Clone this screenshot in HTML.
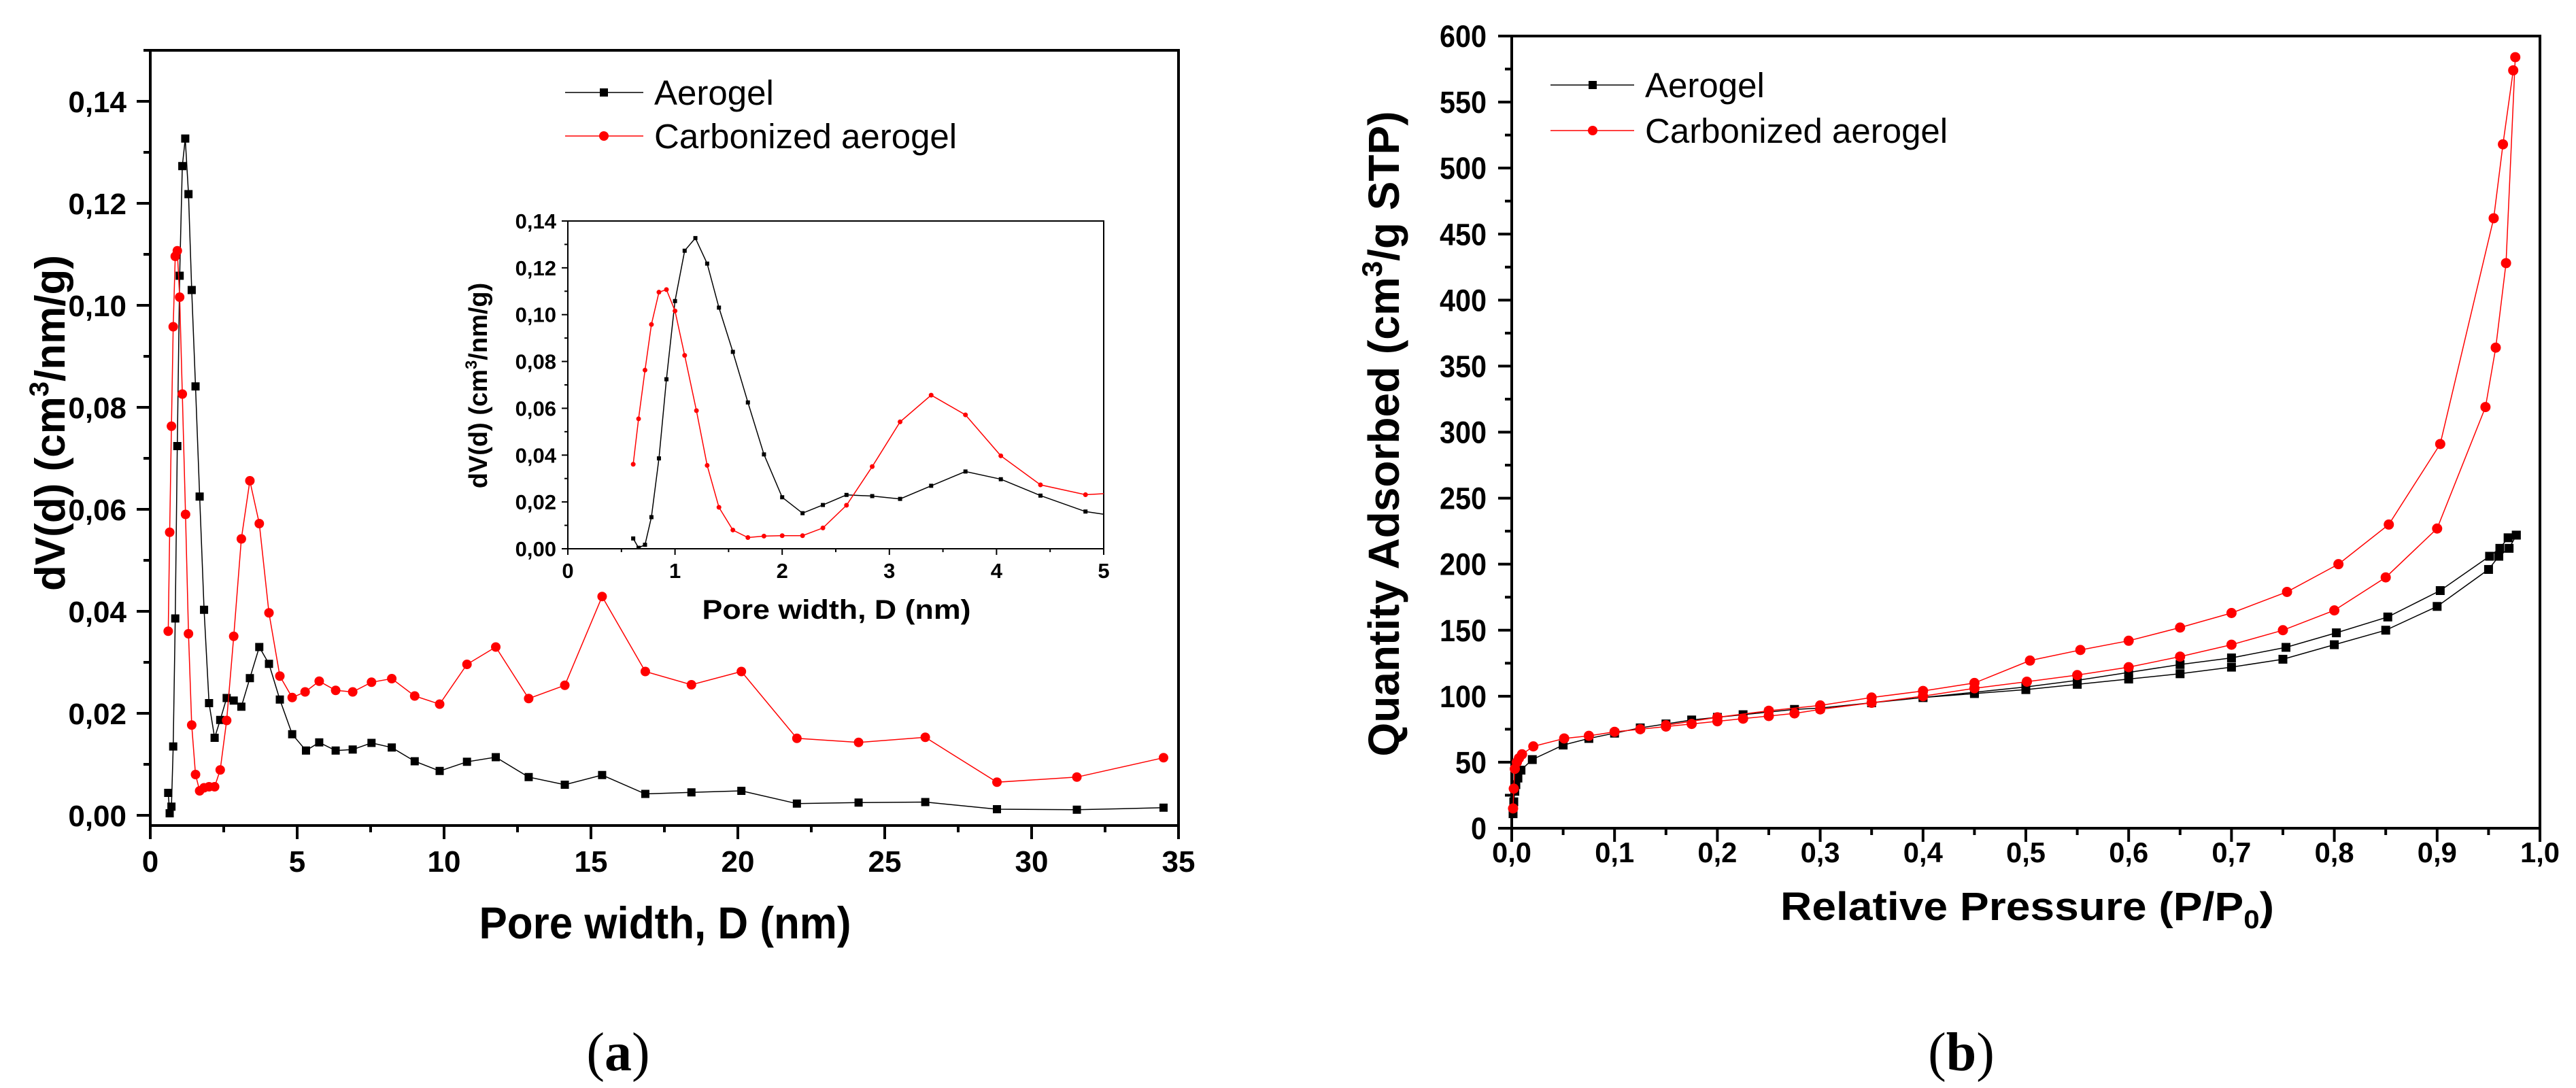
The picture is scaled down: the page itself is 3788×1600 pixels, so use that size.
<!DOCTYPE html>
<html><head><meta charset="utf-8"><style>
html,body{margin:0;padding:0;background:#fff}
svg{display:block}
text{font-family:"Liberation Sans",Arial,sans-serif}
</style></head><body>
<svg id="fig" xmlns="http://www.w3.org/2000/svg" width="3788" height="1600" viewBox="0 0 3788 1600">
<rect width="3788" height="1600" fill="#fff"/>
<defs>
<clipPath id="clipInset"><rect x="835" y="325" width="788" height="482"/></clipPath>
</defs>
<g id="panelA"></g>
<g id="panelB"></g>
<text x="909" y="1574" font-size="80" text-anchor="middle" style="font-family:'Liberation Serif',serif">(<tspan font-weight="bold">a</tspan>)</text>
<text x="2884" y="1574" font-size="80" text-anchor="middle" style="font-family:'Liberation Serif',serif">(<tspan font-weight="bold">b</tspan>)</text>
</svg>
<script>
// ---- Panel (a) data: pore width (nm) ----
const aeroX = [0.61,0.66,0.72,0.78,0.85,0.92,1.00,1.09,1.19,1.30,1.41,1.54,1.68,1.83,2.00,2.19,2.38,2.60,2.84,3.10,3.39,3.71,4.04,4.41,4.83,5.30,5.75,6.31,6.89,7.53,8.22,9.00,9.85,10.78,11.76,12.88,14.11,15.38,16.85,18.42,20.12,22.01,24.11,26.38,28.82,31.54,34.49];
const aeroY = [0.0044,0.0004,0.0017,0.0135,0.0386,0.0724,0.1058,0.1273,0.1327,0.1218,0.1030,0.0841,0.0625,0.0403,0.0220,0.0152,0.0187,0.0230,0.0225,0.0213,0.0269,0.0330,0.0297,0.0227,0.0159,0.0127,0.0143,0.0127,0.0129,0.0142,0.0133,0.0106,0.0087,0.0105,0.0114,0.0075,0.0060,0.0079,0.0042,0.0045,0.0048,0.0023,0.0025,0.0026,0.0012,0.0011,0.0015];
const carbX = [0.61,0.66,0.72,0.78,0.85,0.92,1.00,1.09,1.20,1.30,1.41,1.54,1.68,1.83,2.00,2.19,2.38,2.60,2.84,3.10,3.39,3.71,4.04,4.41,4.83,5.27,5.75,6.31,6.89,7.53,8.22,9.00,9.85,10.78,11.76,12.88,14.11,15.38,16.85,18.42,20.12,22.01,24.11,26.38,28.82,31.54,34.49];
const carbY = [0.0361,0.0555,0.0763,0.0958,0.1096,0.1107,0.1016,0.0826,0.0590,0.0356,0.0177,0.0080,0.0048,0.0054,0.0056,0.0056,0.0089,0.0186,0.0351,0.0542,0.0656,0.0572,0.0397,0.0273,0.0231,0.0242,0.0263,0.0245,0.0242,0.0261,0.0268,0.0234,0.0218,0.0296,0.0330,0.0229,0.0255,0.0429,0.0282,0.0256,0.0282,0.0151,0.0143,0.0153,0.0065,0.0075,0.0113];
const aYTicks = ["0,00","0,02","0,04","0,06","0,08","0,10","0,12","0,14"];
const aXTicks = ["0","5","10","15","20","25","30","35"];
const insetXTicks = ["0","1","2","3","4","5"];
// ---- Panel (b) data: relative pressure ----
const aeroAdsX = [0.0013,0.002,0.003,0.004,0.006,0.009,0.02,0.05,0.075,0.1,0.125,0.15,0.175,0.2,0.225,0.25,0.275,0.3,0.35,0.4,0.45,0.5,0.55,0.6,0.65,0.7,0.75,0.8,0.85,0.9,0.95,0.96,0.97,0.977];
const aeroAdsY = [11,20,28,33,38,44,52,63,68,72,76,79,82,84,86,88,90,91,95,99,102,105,109,113,117,122,128,139,150,168,196,206,212,222];
const aeroDesX = [0.977,0.969,0.961,0.951,0.903,0.852,0.802,0.753,0.7,0.65,0.6,0.55,0.5,0.45,0.4];
const aeroDesY = [222,220,212,206,180,160,148,137,129,124,118,112,107,103,99];
const carbAdsX = [0.0013,0.002,0.003,0.005,0.007,0.01,0.021,0.051,0.075,0.1,0.125,0.15,0.175,0.2,0.225,0.25,0.275,0.3,0.35,0.4,0.45,0.501,0.55,0.6,0.65,0.7,0.75,0.8,0.85,0.9,0.947,0.957,0.967,0.976];
const carbAdsY = [15,30,45,50,53,56,62,68,70,73,75,77,79,81,83,85,87,90,95,100,106,111,116,122,130,139,150,165,190,227,319,364,428,584];
const carbDesX = [0.974,0.964,0.955,0.903,0.853,0.804,0.754,0.7,0.65,0.6,0.553,0.504,0.45,0.4,0.35,0.3,0.25,0.2,0.15];
const carbDesY = [574,518,462,291,230,200,179,163,152,142,135,127,110,104,99,93,89,84,78];
const bYTicks = ["0","50","100","150","200","250","300","350","400","450","500","550","600"];
const bXTicks = ["0,0","0,1","0,2","0,3","0,4","0,5","0,6","0,7","0,8","0,9","1,0"];

const NS="http://www.w3.org/2000/svg";
function mk(tag, attrs, parent){const e=document.createElementNS(NS,tag);for(const k in attrs)e.setAttribute(k,attrs[k]);parent.appendChild(e);return e;}
function lin(d0,d1,r0,r1){return v=>r0+(v-d0)/(d1-d0)*(r1-r0);}
function polyline(xs,ys,sx,sy,color,parent,w){
  const pts=xs.map((x,i)=>sx(x).toFixed(1)+","+sy(ys[i]).toFixed(1)).join(" ");
  return mk("polyline",{points:pts,fill:"none",stroke:color,"stroke-width":w},parent);
}
function markers(xs,ys,sx,sy,kind,size,color,parent){
  const g=mk("g",{},parent);
  xs.forEach((x,i)=>{
    let m;
    if(kind==="sq") m=mk("rect",{x:sx(x)-size/2,y:sy(ys[i])-size/2,width:size,height:size,fill:color},g);
    else m=mk("circle",{cx:sx(x),cy:sy(ys[i]),r:size/2,fill:color},g);
    
    
  });
  return g;
}
function txt(x,y,s,size,anchor,parent,extra){
  const t=mk("text",Object.assign({x:x,y:y,"font-size":size,"text-anchor":anchor},extra||{}),parent);
  t.textContent=s;return t;
}

// ================= Panel A =================
const A=document.getElementById("panelA");
const ax=lin(0,35,221,1733), ay=lin(0,0.14,1199,149);
const aL=221,aR=1733,aT=74,aB=1214;
mk("rect",{x:aL,y:aT,width:aR-aL,height:aB-aT,fill:"none",stroke:"#000","stroke-width":4},A);
const aAx=mk("g",{},A);

aYTicks.forEach((s,i)=>{const v=i*0.02;const y=ay(v);
  mk("line",{x1:aL-20,y1:y,x2:aL,y2:y,stroke:"#000","stroke-width":4},aAx);
  mk("line",{x1:aL-10,y1:ay(v+0.01),x2:aL,y2:ay(v+0.01),stroke:"#000","stroke-width":4},aAx);
  const t=txt(186,y+16,s,44,"end",aAx,{"font-weight":"bold"});
  
});
const aXx=mk("g",{},A);

aXTicks.forEach((s,i)=>{const v=i*5;const x=ax(v);
  mk("line",{x1:x,y1:aB,x2:x,y2:aB+20,stroke:"#000","stroke-width":4},aXx);
  if(v<35) mk("line",{x1:ax(v+2.5),y1:aB,x2:ax(v+2.5),y2:aB+10,stroke:"#000","stroke-width":4},aXx);
  const t=txt(x,1282,s,44,"middle",aXx,{"font-weight":"bold"});
  
});
let t=txt(978,1380,"Pore width, D (nm)",66,"middle",A,{"font-weight":"bold",textLength:547,lengthAdjust:"spacingAndGlyphs"});

t=mk("text",{x:0,y:0,"font-size":62,"font-weight":"bold","text-anchor":"middle",transform:"translate(95,622) rotate(-90)"},A);
t.innerHTML='dV(d) (cm<tspan font-size="40" dy="-24">3</tspan><tspan dy="24">/nm/g)</tspan>';

const sA=mk("g",{},A);
polyline(aeroX,aeroY,ax,ay,"#000",sA,1.5);markers(aeroX,aeroY,ax,ay,"sq",12,"#000",sA);
const sC=mk("g",{},A);
polyline(carbX,carbY,ax,ay,"#f00",sC,1.5);markers(carbX,carbY,ax,ay,"ci",14,"#f00",sC);
// legend a
const lgA=mk("g",{},A);
mk("line",{x1:831,y1:136,x2:946,y2:136,stroke:"#000","stroke-width":1.5},lgA);
mk("rect",{x:882,y:130,width:12,height:12,fill:"#000"},lgA);
txt(962,154,"Aerogel",51,"start",lgA);
mk("line",{x1:831,y1:200,x2:946,y2:200,stroke:"#f00","stroke-width":1.5},lgA);
mk("circle",{cx:888,cy:200,r:7,fill:"#f00"},lgA);
txt(962,218,"Carbonized aerogel",51,"start",lgA);
// inset
const I=mk("g",{},A);
const ix=lin(0,5,835,1623), iy=lin(0,0.14,807,325);
mk("rect",{x:835,y:325,width:788,height:482,fill:"#fff",stroke:"#000","stroke-width":2},I);
aYTicks.forEach((s,i)=>{const v=i*0.02;const y=iy(v);
  mk("line",{x1:826,y1:y,x2:835,y2:y,stroke:"#000","stroke-width":2},I);
  if(v<0.14) mk("line",{x1:830,y1:iy(v+0.01),x2:835,y2:iy(v+0.01),stroke:"#000","stroke-width":2},I);
  const tt=txt(818,y+11,s,31,"end",I,{"font-weight":"bold"});
});
insetXTicks.forEach((s,i)=>{const x=ix(i);
  mk("line",{x1:x,y1:807,x2:x,y2:816,stroke:"#000","stroke-width":2},I);
  if(i<5) mk("line",{x1:ix(i+0.5),y1:807,x2:ix(i+0.5),y2:812,stroke:"#000","stroke-width":2},I);
  const tt=txt(x,850,s,31,"middle",I,{"font-weight":"bold"});
});
t=txt(1230,910,"Pore width, D (nm)",40,"middle",I,{"font-weight":"bold",textLength:395,lengthAdjust:"spacingAndGlyphs"});

t=mk("text",{x:0,y:0,"font-size":38,"font-weight":"bold","text-anchor":"middle",transform:"translate(716,567) rotate(-90)"},I);
t.innerHTML='dV(d) (cm<tspan font-size="24" dy="-15">3</tspan><tspan dy="15">/nm/g)</tspan>';

const ic=mk("g",{"clip-path":"url(#clipInset)"},I);
polyline(aeroX,aeroY,ix,iy,"#000",ic,1.5);markers(aeroX,aeroY,ix,iy,"sq",6,"#000",ic);
polyline(carbX,carbY,ix,iy,"#f00",ic,1.5);markers(carbX,carbY,ix,iy,"ci",7,"#f00",ic);

// ================= Panel B =================
const B=document.getElementById("panelB");
const bx=lin(0,1,2223,3735), by=lin(0,600,1218,53);
mk("rect",{x:2223,y:53,width:1512,height:1165,fill:"none",stroke:"#000","stroke-width":4},B);
const bYa=mk("g",{},B);
bYTicks.forEach((s,i)=>{const v=i*50;const y=by(v);
  mk("line",{x1:2203,y1:y,x2:2223,y2:y,stroke:"#000","stroke-width":4},bYa);
  if(v<600) mk("line",{x1:2213,y1:by(v+25),x2:2223,y2:by(v+25),stroke:"#000","stroke-width":4},bYa);
  const tt=txt(2186,y+16,s,45,"end",bYa,{"font-weight":"bold",textLength:s.length*23,lengthAdjust:"spacingAndGlyphs"});
});
const bXa=mk("g",{},B);
bXTicks.forEach((s,i)=>{const v=i/10;const x=bx(v);
  mk("line",{x1:x,y1:1218,x2:x,y2:1238,stroke:"#000","stroke-width":4},bXa);
  if(i<10) mk("line",{x1:bx(v+0.05),y1:1218,x2:bx(v+0.05),y2:1228,stroke:"#000","stroke-width":4},bXa);
  const tt=txt(x,1268,s,42,"middle",bXa,{"font-weight":"bold",textLength:58,lengthAdjust:"spacingAndGlyphs"});
});
t=mk("text",{x:2981,y:1353,"font-size":58,"font-weight":"bold","text-anchor":"middle",textLength:726,lengthAdjust:"spacingAndGlyphs"},B);
t.innerHTML='Relative Pressure (P/P<tspan font-size="38" dy="12">0</tspan><tspan dy="-12">)</tspan>';

t=mk("text",{x:0,y:0,"font-size":64,"font-weight":"bold","text-anchor":"middle",transform:"translate(2057,638) rotate(-90)"},B);
t.innerHTML='Quantity Adsorbed (cm<tspan font-size="42" dy="-25">3</tspan><tspan dy="25">/g  STP)</tspan>';

const bA=mk("g",{},B);
polyline(aeroAdsX,aeroAdsY,bx,by,"#000",bA,1.5);polyline(aeroDesX,aeroDesY,bx,by,"#000",bA,1.5);
markers(aeroAdsX,aeroAdsY,bx,by,"sq",13,"#000",bA);markers(aeroDesX,aeroDesY,bx,by,"sq",13,"#000",bA);
const bC=mk("g",{},B);
polyline(carbAdsX,carbAdsY,bx,by,"#f00",bC,1.5);polyline(carbDesX,carbDesY,bx,by,"#f00",bC,1.5);
markers(carbAdsX,carbAdsY,bx,by,"ci",15,"#f00",bC);markers(carbDesX,carbDesY,bx,by,"ci",15,"#f00",bC);
const lgB=mk("g",{},B);
mk("line",{x1:2280,y1:125,x2:2403,y2:125,stroke:"#000","stroke-width":1.5},lgB);
mk("rect",{x:2336,y:119,width:12,height:12,fill:"#000"},lgB);
txt(2419,143,"Aerogel",51,"start",lgB);
mk("line",{x1:2280,y1:192,x2:2403,y2:192,stroke:"#f00","stroke-width":1.5},lgB);
mk("circle",{cx:2342,cy:192,r:7,fill:"#f00"},lgB);
txt(2419,210,"Carbonized aerogel",51,"start",lgB);
</script>
</body></html>
